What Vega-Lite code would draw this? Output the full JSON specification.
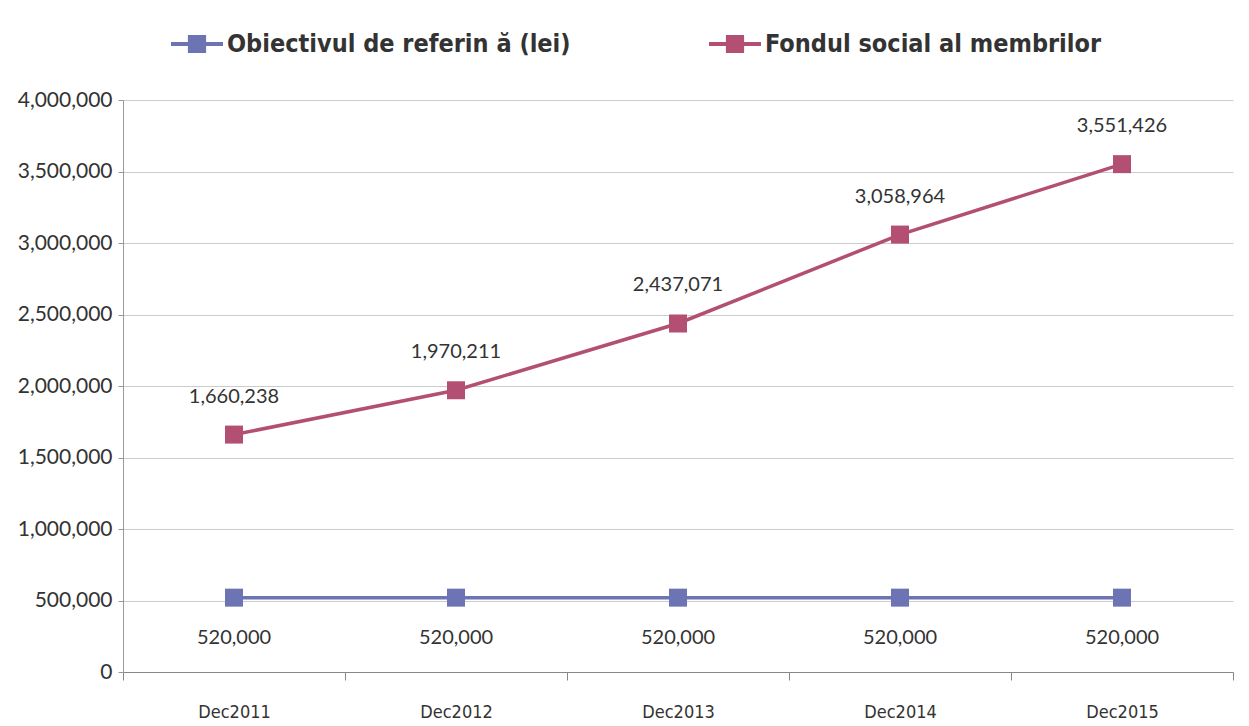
{
  "$schema": "https://vega.github.io/schema/vega-lite/v6.json",
  "width": 1110,
  "height": 572,
  "autosize": {"type": "none"},
  "padding": {"left": 123, "top": 100, "right": 16, "bottom": 54},
  "background": "white",
  "config": {
    "view": {"stroke": null},
    "font": "Lato"
  },
  "data": {
    "values": [
      {"luna": "Dec2011", "serie": "Obiectivul de referin ă (lei)", "valoare": 520000},
      {"luna": "Dec2012", "serie": "Obiectivul de referin ă (lei)", "valoare": 520000},
      {"luna": "Dec2013", "serie": "Obiectivul de referin ă (lei)", "valoare": 520000},
      {"luna": "Dec2014", "serie": "Obiectivul de referin ă (lei)", "valoare": 520000},
      {"luna": "Dec2015", "serie": "Obiectivul de referin ă (lei)", "valoare": 520000},
      {"luna": "Dec2011", "serie": "Fondul social al membrilor", "valoare": 1660238},
      {"luna": "Dec2012", "serie": "Fondul social al membrilor", "valoare": 1970211},
      {"luna": "Dec2013", "serie": "Fondul social al membrilor", "valoare": 2437071},
      {"luna": "Dec2014", "serie": "Fondul social al membrilor", "valoare": 3058964},
      {"luna": "Dec2015", "serie": "Fondul social al membrilor", "valoare": 3551426}
    ]
  },
  "encoding": {
    "x": {
      "field": "luna", "type": "nominal", "sort": null,
      "scale": {"paddingInner": 0, "paddingOuter": 0},
      "axis": {
        "title": null, "labelAngle": 0, "labelFont": "DejaVu Sans Condensed",
        "labelFontSize": 18, "labelColor": "#333333", "labelPadding": 23,
        "tickBand": "extent", "tickSize": 8, "tickColor": "#888888",
        "domainColor": "#888888", "grid": false
      }
    },
    "y": {
      "field": "valoare", "type": "quantitative",
      "scale": {"domain": [0, 4000000]},
      "axis": {
        "title": null, "values": [0,500000,1000000,1500000,2000000,2500000,3000000,3500000,4000000],
        "labelExpr": "format(datum.value, ',')", "labelFontSize": 21, "labelColor": "#333333",
        "labelPadding": 6, "tickSize": 5, "tickColor": "#999999",
        "domainColor": "#999999", "gridColor": "#cccccc", "gridWidth": 1
      }
    },
    "color": {
      "field": "serie", "type": "nominal",
      "scale": {
        "domain": ["Obiectivul de referin ă (lei)", "Fondul social al membrilor"],
        "range": ["#6c74b4", "#b24f72"]
      },
      "legend": {
        "title": null, "orient": "none", "direction": "horizontal",
        "legendX": 48, "legendY": -82,
        "labelFont": "DejaVu Sans Condensed", "labelFontSize": 25,
        "labelFontWeight": "bold", "labelColor": "#333333", "labelLimit": 600,
        "symbolType": "M-1,-0.08H1V0.08H-1Z M-0.35,-0.35H0.35V0.35H-0.35Z",
        "symbolSize": 2700, "symbolStrokeWidth": 0, "symbolOpacity": 1,
        "columnPadding": 138, "labelOffset": 4
      }
    }
  },
  "layer": [
    {"mark": {"type": "line", "strokeWidth": 3.5}},
    {"mark": {"type": "point", "shape": "square", "filled": true, "size": 324, "opacity": 1}},
    {
      "transform": [{"filter": "datum.serie === 'Fondul social al membrilor'"}],
      "mark": {"type": "text", "dy": -38, "fontSize": 20, "fill": "#333333"},
      "encoding": {"text": {"field": "valoare", "type": "quantitative", "format": ","}, "color": {"value": "#333333"}}
    },
    {
      "transform": [{"filter": "datum.serie !== 'Fondul social al membrilor'"}],
      "mark": {"type": "text", "dy": 40, "fontSize": 20, "fill": "#333333"},
      "encoding": {"text": {"field": "valoare", "type": "quantitative", "format": ","}, "color": {"value": "#333333"}}
    }
  ]
}
